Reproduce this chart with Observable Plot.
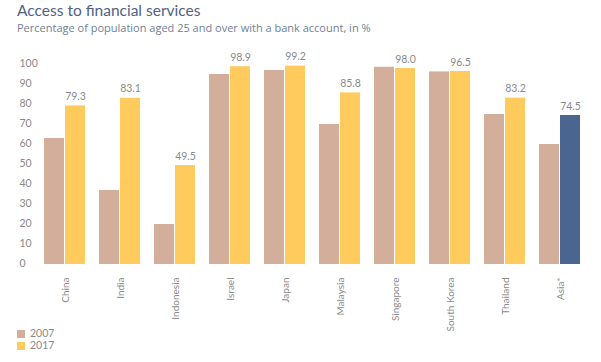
<!DOCTYPE html>
<html>
<head>
<meta charset="utf-8">
<script src="https://cdn.jsdelivr.net/npm/d3@7"></script>
<script src="https://cdn.jsdelivr.net/npm/@observablehq/plot@0.6"></script>
<style>
  html, body { margin: 0; padding: 0; background: #fff; }
  body { width: 601px; height: 362px; overflow: hidden; font-family: "Open Sans", sans-serif; position: relative; }
  #title { position: absolute; left: 17px; top: 1px; font-family: Lato, sans-serif; font-size: 15.5px; color: #4f6283; font-weight: 400; }
  #subtitle { position: absolute; left: 17px; top: 20px; font-size: 11px; color: #6f7f98; }
  #chart { position: absolute; left: 0; top: 40px; }
  #legend { position: absolute; left: 17px; top: 327px; font-family: Lato, sans-serif; font-size: 10.5px; color: #8a8a8a; }
  #legend div { height: 12px; line-height: 12px; }
  #legend .sw { display: inline-block; width: 8px; height: 8px; margin-right: 5px; vertical-align: -0.5px; }
</style>
</head>
<body>
<div id="title">Access to financial services</div>
<div id="subtitle">Percentage of population aged 25 and over with a bank account, in %</div>
<div id="chart"></div>
<div id="legend"></div>
<script>
const countries = ["China","India","Indonesia","Israel","Japan","Malaysia","Singapore","South Korea","Thailand","Asia*"];
const years = ["2007","2017"];
const values2007 = [63, 37, 20, 95, 97, 70, 98.6, 96.3, 75, 60];
const values2017 = [79.3, 83.1, 49.5, 98.9, 99.2, 85.8, 98.0, 96.5, 83.2, 74.5];
const labels2017 = ["79.3","83.1","49.5","98.9","99.2","85.8","98.0","96.5","83.2","74.5"];
const yTicks = [0,10,20,30,40,50,60,70,80,90,100];
const colors = {"2007": "#d3ae9b", "2017": "#fecb5c", "asia": "#4a6690"};

const data = [];
countries.forEach((c, i) => {
  data.push({country: c, year: "2007", value: values2007[i], label: null});
  data.push({country: c, year: "2017", value: values2017[i], label: labels2017[i]});
});
const fillOf = d => (d.country === "Asia*" && d.year === "2017") ? colors.asia : colors[d.year];

const chart = Plot.plot({
  width: 601,
  height: 300,
  marginTop: 24,
  marginBottom: 76,
  marginLeft: 36,
  marginRight: 12,
  style: {fontFamily: "Lato, sans-serif", fontSize: "10px", color: "#8a8a8a", background: "transparent"},
  fx: {domain: countries, paddingInner: 0.23, paddingOuter: 0.115, axis: null, label: null},
  x: {domain: years, axis: null, paddingInner: 0.04, paddingOuter: 0},
  y: {domain: [0, 100], axis: null},
  marks: [
    Plot.barY(data, {fx: "country", x: "year", y: "value", fill: fillOf}),
    Plot.text(data.filter(d => d.label), {fx: "country", x: "year", y: "value", text: "label", dy: -6, lineAnchor: "bottom", fill: "#8a8a8a", fontSize: 10.5}),
    Plot.axisY(yTicks, {tickSize: 0, textAnchor: "start", dx: -16, dy: -1, fill: "#8a8a8a", fontSize: 10.5, label: null}),
    Plot.axisFx({tickRotate: -90, tickSize: 0, tickPadding: 13, fill: "#8a8a8a", fontSize: 10, label: null, anchor: "bottom"})
  ]
});
document.getElementById("chart").appendChild(chart);

const legend = document.getElementById("legend");
years.forEach(y => {
  const row = document.createElement("div");
  row.innerHTML = `<span class="sw" style="background:${colors[y]}"></span>${y}`;
  legend.appendChild(row);
});
</script>
</body>
</html>
